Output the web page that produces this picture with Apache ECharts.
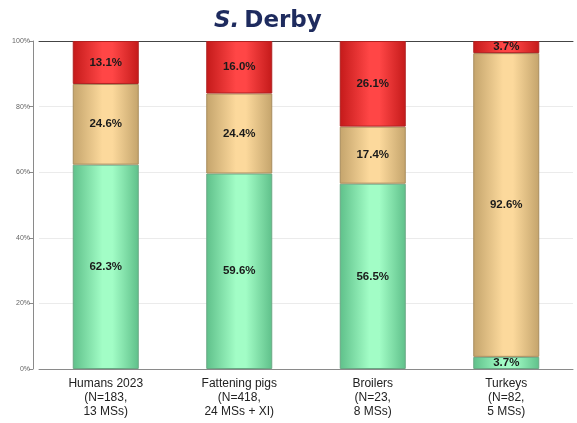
<!DOCTYPE html>
<html>

<head>
    <title>S. Derby</title>
    <meta charset="utf-8" />
    <script src="https://cdn.jsdelivr.net/npm/echarts@6/dist/echarts.min.js"></script>
    <style type="text/css">
        html,
        body {
            width: 100%;
            height: 100%;
            margin: 0;
            background: #fff;
        }

        #chart {
            width: 577px;
            height: 423px;
        }
    </style>
</head>

<body>
    <div id="chart"></div>
    <script>
        var categories = [
            'Humans 2023\n(N=183,\n13 MSs)',
            'Fattening pigs\n(N=418,\n24 MSs + XI)',
            'Broilers\n(N=23,\n8 MSs)',
            'Turkeys\n(N=82,\n5 MSs)'
        ];
        var greenValues = [62.3, 59.6, 56.5, 3.7];
        var tanValues = [24.6, 24.4, 17.4, 92.6];
        var redValues = [13.1, 16.0, 26.1, 3.7];
        var yTicks = [0, 20, 40, 60, 80, 100];

        function barGradient(edge, mid) {
            return new echarts.graphic.LinearGradient(0, 0, 1, 0, [
                { offset: 0, color: edge },
                { offset: 0.45, color: mid },
                { offset: 0.6, color: mid },
                { offset: 1, color: edge }
            ]);
        }

        function makeSeries(name, data, edge, mid, border) {
            return {
                name: name,
                type: 'bar',
                stack: 'total',
                barWidth: 66,
                data: data,
                itemStyle: {
                    color: barGradient(edge, mid),
                    borderColor: border,
                    borderWidth: 1
                },
                label: {
                    show: true,
                    position: 'inside',
                    formatter: function (p) { return p.value.toFixed(1) + '%'; },
                    color: '#1a1a1a',
                    fontFamily: 'Liberation Sans',
                    fontWeight: 'bold',
                    fontSize: 11.5
                }
            };
        }

        var chart = echarts.init(document.getElementById('chart'), null, { renderer: 'canvas' });

        var option = {
            animation: false,
            backgroundColor: '#fff',
            title: {
                text: '{i|S.} {b|Derby}',
                left: 209,
                top: 5,
                textStyle: {
                    rich: {
                        i: { fontFamily: 'DejaVu Sans', fontWeight: 'bold', fontStyle: 'italic', fontSize: 23, color: '#1e2b5e' },
                        b: { fontFamily: 'DejaVu Sans', fontWeight: 'bold', fontSize: 23, color: '#1e2b5e' }
                    }
                }
            },
            grid: {
                left: 39,
                right: 4,
                top: 41,
                bottom: 54
            },
            xAxis: [{
                type: 'category',
                data: categories,
                axisLine: { lineStyle: { color: '#8a8a8a', width: 1 } },
                axisTick: { show: false },
                axisLabel: {
                    color: '#222',
                    fontFamily: 'Liberation Sans',
                    fontSize: 12,
                    lineHeight: 14,
                    margin: 8,
                    interval: 0
                }
            }, {
                type: 'category',
                position: 'top',
                data: categories,
                axisLine: { lineStyle: { color: '#444', width: 1 } },
                axisTick: { show: false },
                axisLabel: { show: false }
            }],
            yAxis: {
                type: 'value',
                min: 0,
                max: 100,
                interval: 20,
                offset: 6,
                axisLine: { show: true, lineStyle: { color: '#8a8a8a' } },
                axisTick: { show: true, length: 4, lineStyle: { color: '#8a8a8a' } },
                axisLabel: {
                    formatter: function (v) { return yTicks.indexOf(v) >= 0 ? v + '%' : ''; },
                    color: '#666',
                    fontFamily: 'Liberation Sans',
                    fontSize: 7,
                    margin: 3
                },
                splitLine: { show: true, lineStyle: { color: '#ebebeb' } }
            },
            series: [
                makeSeries('green', greenValues, '#5fc08a', '#a2fdc6', '#6aa884'),
                makeSeries('tan', tanValues, '#c4a46c', '#fcd99c', '#a88c5c'),
                makeSeries('red', redValues, '#c41a1a', '#ff4646', '#b02020')
            ]
        };

        chart.setOption(option);
    </script>
</body>

</html>
